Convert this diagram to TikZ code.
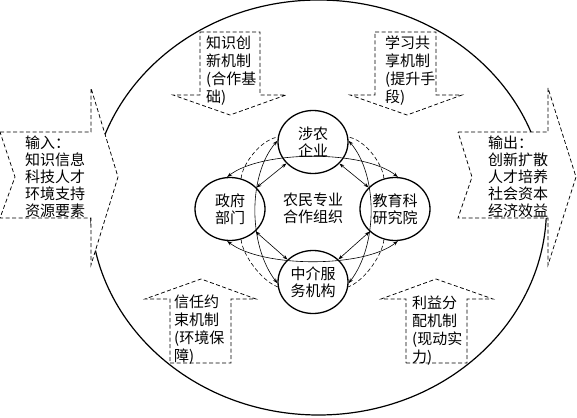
\documentclass[tikz,border=0pt]{standalone}
\usepackage{fontspec}
\newfontfamily\cjk{Noto Sans CJK SC}
\usetikzlibrary{shapes.geometric,arrows.meta}
\begin{document}
\begin{tikzpicture}[x=1pt,y=-1pt,
  flow/.style={draw, dash pattern=on 4pt off 2.5pt, fill=white, line width=0.75pt},
  txt/.style={inner sep=0pt, align=left, anchor=north west, font=\cjk\fontsize{15}{18}\selectfont},
  iotxt/.style={inner sep=0pt, align=left, anchor=north west, font=\cjk\fontsize{15}{16.9}\selectfont},
  unit/.style={ellipse, draw, line width=1.3pt, minimum width=70pt, minimum height=63pt, inner sep=0pt, align=center, font=\cjk\fontsize{15}{17}\selectfont},
  link/.style={line width=0.6pt, {Stealth[length=5pt,width=3.5pt]}-{Stealth[length=5pt,width=3.5pt]}},
  dlink/.style={line width=0.6pt, dash pattern=on 4pt off 2.5pt}]
\useasboundingbox (0,0) rectangle (577,417);
% outer loop
\draw[line width=1.2pt] (318.5,207.5) ellipse [x radius=228, y radius=207.5];
% input / output arrows
\draw[flow] (0,132) -- (91,132) -- (91,88) -- (118,177) -- (91,265) -- (91,218) -- (0,218) -- (15,177) -- cycle;
\draw[flow] (458,132) -- (548,132) -- (548,88) -- (576,177) -- (548,265) -- (548,218) -- (458,218) -- (472,177) -- cycle;
% mechanism arrows
\draw[flow] (200,32) -- (260,32) -- (260,95) -- (286,95) -- (230,115) -- (173,95) -- (200,95) -- cycle;
\draw[flow] (375,32) -- (436,32) -- (436,95) -- (462,95) -- (407,115) -- (350,95) -- (375,95) -- cycle;
\draw[flow] (170,363) -- (231,363) -- (231,299) -- (256,299) -- (201,279) -- (145,299) -- (170,299) -- cycle;
\draw[flow] (406,363) -- (467,363) -- (467,299) -- (493,299) -- (436,279) -- (381,299) -- (406,299) -- cycle;
% texts
\node[iotxt] (in) at (25,136) {输入：\\知识信息\\科技人才\\环境支持\\资源要素};
\node[iotxt] (out) at (488,136) {输出：\\创新扩散\\人才培养\\社会资本\\经济效益};
\node[txt] (m1) at (206,36) {知识创\\新机制\\(合作基\\础)};
\node[txt] (m2) at (385,36) {学习共\\享机制\\(提升手\\段)};
\node[txt] (m3) at (174,295) {信任约\\束机制\\(环境保\\障)};
\node[txt] (m4) at (412,296) {利益分\\配机制\\(现动实\\力)};
% actors
\node[unit] (ent) at (313,142) {涉农\\企业};
\node[unit] (gov) at (230,209) {政府\\部门};
\node[unit] (edu) at (395,209) {教育科\\研究院};
\node[unit] (med) at (313,282) {中介服\\务机构};
\node[align=center, inner sep=0pt, font=\cjk\fontsize{15}{17}\selectfont] (core) at (313,208) {农民专业\\合作组织};
% direct links
\draw[link] (gov) -- (ent);
\draw[link] (ent) -- (edu);
\draw[link] (edu) -- (med);
\draw[link] (med) -- (gov);
% horizontal loop
\draw[link] (gov.95) .. controls (262,150) and (364,150) .. (edu.85);
\draw[link] (gov.265) .. controls (262,268) and (364,268) .. (edu.275);
% vertical loop
\draw[link] (ent.178) .. controls (248,175) and (248,245) .. (med.182);
\draw[link] (ent.2) .. controls (378,175) and (378,245) .. (med.358);
% dashed links
\draw[dlink] (gov.70) .. controls (242,165) and (260,140) .. (ent.172);
\draw[dlink] (edu.110) .. controls (383,165) and (366,140) .. (ent.8);
\draw[dlink] (gov.-70) .. controls (242,253) and (260,280) .. (med.188);
\draw[dlink] (edu.-110) .. controls (383,253) and (366,280) .. (med.-8);
\end{tikzpicture}
\end{document}
